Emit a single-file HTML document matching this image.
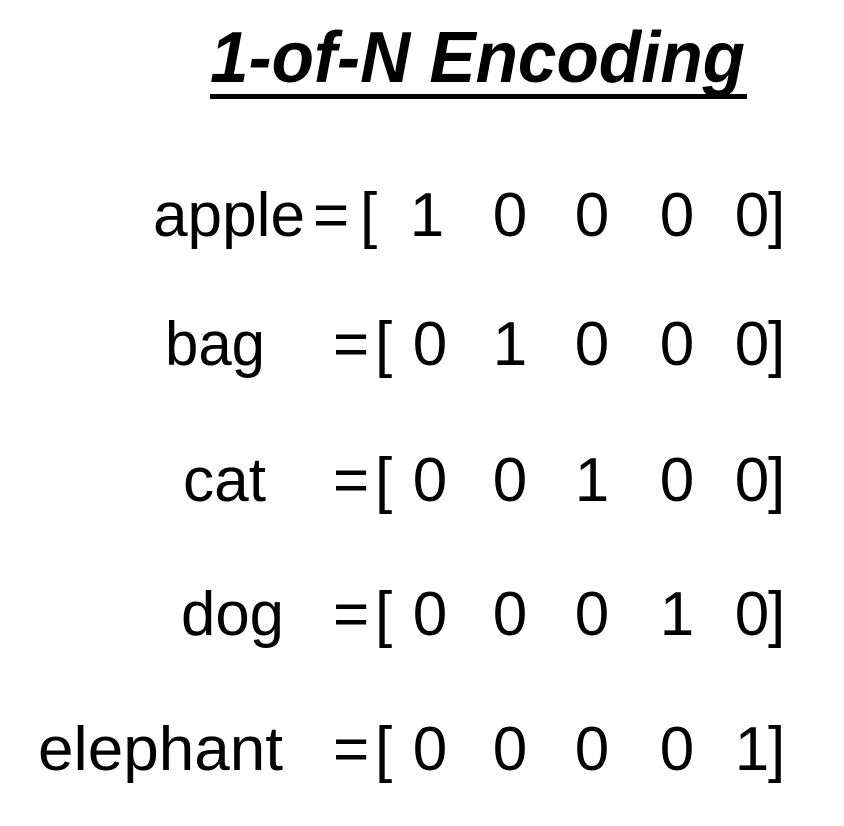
<!DOCTYPE html>
<html><head><meta charset="utf-8"><style>
html,body{margin:0;padding:0;background:#fff;width:844px;height:826px;overflow:hidden}
svg{display:block}
text{font-family:"Liberation Sans",sans-serif;fill:#000}
</style></head><body>
<svg width="844" height="826" viewBox="0 0 844 826">
<text x="210" y="82" font-size="72" font-weight="bold" font-style="italic" textLength="535" lengthAdjust="spacingAndGlyphs">1-of-N Encoding</text>
<rect x="210" y="94" width="537" height="5" fill="#000"/>
<g font-size="62">
<text x="153" y="236" textLength="152" lengthAdjust="spacingAndGlyphs">apple</text>
<text x="313" y="236">=</text><text x="360" y="236">[</text>
<text x="427" y="236" text-anchor="middle">1</text><text x="510" y="236" text-anchor="middle">0</text><text x="592" y="236" text-anchor="middle">0</text><text x="677" y="236" text-anchor="middle">0</text><text x="752" y="236" text-anchor="middle">0</text><text x="768" y="236">]</text>

<text x="165" y="365" textLength="100" lengthAdjust="spacingAndGlyphs">bag</text>
<text x="333" y="365">=</text><text x="375" y="365">[</text>
<text x="430" y="365" text-anchor="middle">0</text><text x="510" y="365" text-anchor="middle">1</text><text x="592" y="365" text-anchor="middle">0</text><text x="677" y="365" text-anchor="middle">0</text><text x="752" y="365" text-anchor="middle">0</text><text x="768" y="365">]</text>

<text x="183" y="501" textLength="83" lengthAdjust="spacingAndGlyphs">cat</text>
<text x="333" y="501">=</text><text x="375" y="501">[</text>
<text x="430" y="501" text-anchor="middle">0</text><text x="510" y="501" text-anchor="middle">0</text><text x="592" y="501" text-anchor="middle">1</text><text x="677" y="501" text-anchor="middle">0</text><text x="752" y="501" text-anchor="middle">0</text><text x="768" y="501">]</text>

<text x="181" y="635" textLength="103" lengthAdjust="spacingAndGlyphs">dog</text>
<text x="333" y="635">=</text><text x="375" y="635">[</text>
<text x="430" y="635" text-anchor="middle">0</text><text x="510" y="635" text-anchor="middle">0</text><text x="592" y="635" text-anchor="middle">0</text><text x="677" y="635" text-anchor="middle">1</text><text x="752" y="635" text-anchor="middle">0</text><text x="768" y="635">]</text>

<text x="38" y="770" textLength="245" lengthAdjust="spacingAndGlyphs">elephant</text>
<text x="333" y="770">=</text><text x="375" y="770">[</text>
<text x="430" y="770" text-anchor="middle">0</text><text x="510" y="770" text-anchor="middle">0</text><text x="592" y="770" text-anchor="middle">0</text><text x="677" y="770" text-anchor="middle">0</text><text x="752" y="770" text-anchor="middle">1</text><text x="768" y="770">]</text>
</g>
</svg>
</body></html>
